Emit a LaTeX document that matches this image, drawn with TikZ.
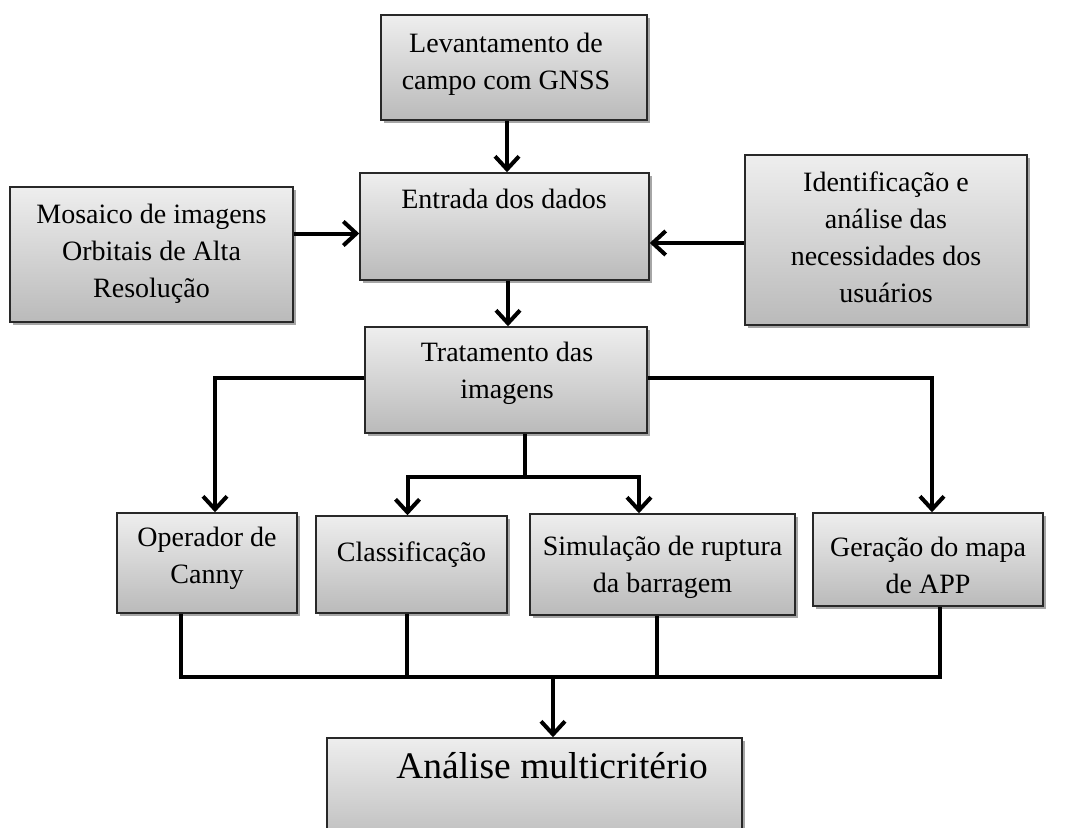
\documentclass[tikz,border=0pt]{standalone}
\usepackage{fontspec}
\setmainfont{Liberation Serif}
\usetikzlibrary{arrows.meta,shadows}
\definecolor{boxtop}{RGB}{238,238,238}
\definecolor{boxbot}{RGB}{186,186,186}
\definecolor{boxline}{RGB}{40,40,40}
\tikzset{
  boxnode/.style={draw=boxline, line width=1.5pt, top color=boxtop, bottom color=boxbot,
    inner sep=0pt, drop shadow={shadow xshift=3pt, shadow yshift=-3pt, fill=black, opacity=0.35}},
  txt/.style={anchor=base, align=center, inner sep=0pt, font=\fontsize{28}{37}\selectfont},
  bigtxt/.style={anchor=base, align=center, inner sep=0pt, font=\fontsize{37.5}{44}\selectfont},
  conn/.style={line width=4pt, draw=black},
  arr/.style={conn, -{Straight Barb[length=13pt, width=24pt]}}
}
\begin{document}
\begin{tikzpicture}[x=1pt, y=-1pt]
\useasboundingbox (0,0) rectangle (1065,827);
\clip (0,0) rectangle (1065,827);
% boxes
\node[boxnode, minimum width=266pt, minimum height=105pt] (lev) at (514,67.5) {};
\node[boxnode, minimum width=289pt, minimum height=107pt] (ent) at (504.5,226.5) {};
\node[boxnode, minimum width=283pt, minimum height=135pt] (mos) at (151.5,254.5) {};
\node[boxnode, minimum width=282pt, minimum height=170pt] (ide) at (886,240) {};
\node[boxnode, minimum width=282pt, minimum height=106pt] (tra) at (506,380) {};
\node[boxnode, minimum width=180pt, minimum height=100pt] (ope) at (207,563) {};
\node[boxnode, minimum width=191pt, minimum height=97pt] (cla) at (411.5,564.5) {};
\node[boxnode, minimum width=265pt, minimum height=101pt] (sim) at (662.5,564.5) {};
\node[boxnode, minimum width=230pt, minimum height=93pt] (ger) at (928,559.5) {};
\node[boxnode, minimum width=415pt, minimum height=112pt] (ana) at (534.5,794) {};
% texts (base anchor = baseline of last line)
\node[txt] (lev-t) at (506,89) {Levantamento de\\campo com GNSS};
\node[txt] (ent-t) at (504,208) {Entrada dos dados};
\node[txt] (mos-t) at (151.5,297) {Mosaico de imagens\\Orbitais de Alta\\Resolução};
\node[txt] (ide-t) at (886,302) {Identificação e\\análise das\\necessidades dos\\usuários};
\node[txt] (tra-t) at (507,398) {Tratamento das\\imagens};
\node[txt] (ope-t) at (207,583) {Operador de\\Canny};
\node[txt] (cla-t) at (411.5,561) {Classificação};
\node[txt] (sim-t) at (662.5,592) {Simulação de ruptura\\da barragem};
\node[txt] (ger-t) at (928,593) {Geração do mapa\\de APP};
\node[bigtxt] (ana-t) at (552,778) {Análise multicritério};
% connectors
\draw[arr] ([xshift=-7pt]lev.south) coordinate (l1) -- (l1 |- ent.north);
\draw[arr] ([yshift=21pt]mos.east) coordinate (m1) -- (m1 -| ent.west);
\draw[arr] ([yshift=-3pt]ide.west) coordinate (i1) -- (i1 -| ent.east);
\draw[arr] ([xshift=3.5pt]ent.south) coordinate (e1) -- (e1 |- tra.north);
\path ([xshift=8pt]ope.north) coordinate (o1);
\path ([xshift=4pt]ger.north) coordinate (g1);
\draw[arr] ([yshift=2pt]tra.west) coordinate (t1) -| (o1);
\draw[arr] ([yshift=2pt]tra.east) coordinate (t2) -| (g1);
\coordinate (split) at (525,477);
\draw[conn] (tra.south -| split) -- (split);
\draw[arr] (split) -| ([xshift=-4pt]cla.north);
\draw[arr] (split) -| ([xshift=-23.5pt]sim.north);
\coordinate (merge) at (553,677);
\path ([xshift=-26pt]ope.south) coordinate (o2);
\path ([xshift=-4.5pt]cla.south) coordinate (c2);
\path ([xshift=-5.5pt]sim.south) coordinate (s2);
\path ([xshift=12pt]ger.south) coordinate (g2);
\draw[conn] (o2) |- (merge -| g2) -- (g2);
\draw[conn] (c2) -- (c2 |- merge);
\draw[conn] (s2) -- (s2 |- merge);
\draw[arr] (merge) -- (merge |- ana.north);
\end{tikzpicture}
\end{document}
